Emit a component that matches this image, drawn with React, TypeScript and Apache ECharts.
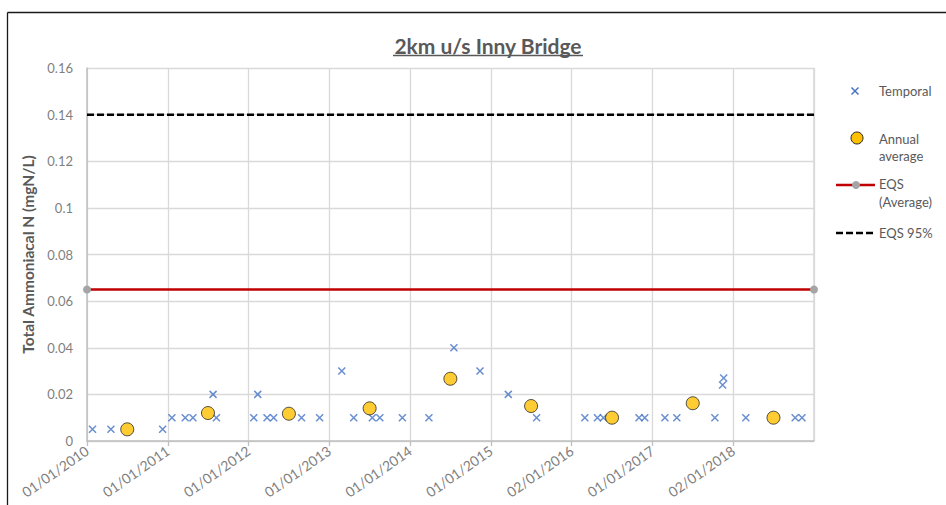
import React, { useEffect, useRef } from "react";
import * as echarts from "echarts";

const tickLabels = [
  "01/01/2010", "01/01/2011", "01/01/2012", "01/01/2013", "01/01/2014",
  "01/01/2015", "02/01/2016", "01/01/2017", "02/01/2018",
];

const temporalDates = [
  "2010-01-26", "2010-04-19", "2010-12-09",
  "2011-01-20", "2011-03-21", "2011-04-25", "2011-07-25", "2011-08-09",
  "2012-01-25", "2012-02-12", "2012-03-25", "2012-04-24", "2012-08-28", "2012-11-18",
  "2013-02-26", "2013-04-21", "2013-07-14", "2013-08-17", "2013-11-27",
  "2014-03-27", "2014-07-18", "2014-11-13",
  "2015-03-21", "2015-07-27",
  "2016-03-01", "2016-04-27", "2016-05-24", "2016-11-01", "2016-11-27",
  "2017-02-26", "2017-04-21", "2017-10-10", "2017-11-19", "2017-11-14",
  "2018-02-27", "2018-10-08", "2018-11-08",
];
const temporalValues = [
  0.005, 0.005, 0.005,
  0.01, 0.01, 0.01, 0.02, 0.01,
  0.01, 0.02, 0.01, 0.01, 0.01, 0.01,
  0.03, 0.01, 0.01, 0.01, 0.01,
  0.01, 0.04, 0.03,
  0.02, 0.01,
  0.01, 0.01, 0.01, 0.01, 0.01,
  0.01, 0.01, 0.01, 0.027, 0.024,
  0.01, 0.01, 0.01,
];

const annualDates = [
  "2010-07-02", "2011-07-02", "2012-07-02", "2013-07-02", "2014-07-02",
  "2015-07-02", "2016-07-02", "2017-07-02", "2018-07-02",
];
const annualValues = [0.005, 0.012, 0.0117, 0.014, 0.0267, 0.015, 0.01, 0.0162, 0.01];

const eqsAverage = 0.065;
const eqs95 = 0.14;

const DAY = 86400000;
const ORIGIN = Date.UTC(2010, 0, 1);
const toDay = (s: string) => (Date.parse(s + "T00:00:00Z") - ORIGIN) / DAY;
const YEAR = 365.25;
const X_MIN = 0;
const X_MAX = YEAR * tickLabels.length;

const FONT = "Lato, 'Open Sans', sans-serif";

export default function App() {
  const ref = useRef<HTMLDivElement>(null);
  useEffect(() => {
    if (!ref.current) return;
    const chart = echarts.init(ref.current, null, { renderer: "svg" });
    const textGray = "#595959";
    const labelGray = "#7f7f7f";
    const legendText = (text: string, x: number, y: number) => ({
      type: "text",
      x,
      y,
      style: { text, fill: textGray, font: `13px ${FONT}`, textVerticalAlign: "middle" },
    });
    chart.setOption({
      animation: false,
      textStyle: { fontFamily: FONT },
      grid: { left: 87, top: 68, right: 132, bottom: 64, containLabel: false },
      xAxis: {
        type: "value",
        min: X_MIN,
        max: X_MAX,
        interval: YEAR,
        axisLine: { show: true, lineStyle: { color: "#bfbfbf", width: 1.5 } },
        axisTick: { show: true, length: 5, lineStyle: { color: "#bfbfbf", width: 1.3 } },
        splitLine: { show: true, lineStyle: { color: "#d9d9d9", width: 1.3 } },
        axisLabel: {
          rotate: 35,
          margin: 8,
          color: labelGray,
          fontSize: 14,
          fontFamily: FONT,
          showMaxLabel: false,
          formatter: (v: number) => tickLabels[Math.round(v / YEAR)] ?? "",
        },
      },
      yAxis: {
        type: "value",
        min: 0,
        max: 0.16,
        interval: 0.02,
        name: "Total Ammoniacal N (mgN/L)",
        nameLocation: "middle",
        nameGap: 50,
        nameTextStyle: { color: textGray, fontWeight: "bold", fontSize: 15.5, fontFamily: FONT },
        axisLine: { show: true, lineStyle: { color: "#bfbfbf", width: 1.5 } },
        axisTick: { show: false },
        splitLine: { show: true, lineStyle: { color: "#d9d9d9", width: 1.3 } },
        axisLabel: {
          color: labelGray,
          fontSize: 13,
          margin: 14,
          fontFamily: FONT,
          formatter: (v: number) => (v === 0 ? "0" : String(Math.round(v * 100) / 100)),
        },
      },
      graphic: [
        { type: "line", shape: { x1: 7.5, y1: 12.5, x2: 946, y2: 12.5 }, style: { stroke: "#1a1a1a", lineWidth: 1.3 } },
        { type: "line", shape: { x1: 7.5, y1: 12.5, x2: 7.5, y2: 505 }, style: { stroke: "#1a1a1a", lineWidth: 1.3 } },
        { type: "line", shape: { x1: 814, y1: 68, x2: 814, y2: 441 }, style: { stroke: "#d9d9d9", lineWidth: 1.5 } },
        {
          type: "text",
          x: 488,
          y: 45,
          style: {
            text: "2km u/s Inny Bridge",
            fill: textGray,
            font: `bold 21px ${FONT}`,
            textAlign: "center",
            textVerticalAlign: "middle",
          },
        },
        { type: "line", shape: { x1: 393, y1: 55.5, x2: 583, y2: 55.5 }, style: { stroke: textGray, lineWidth: 1.3 } },
        // legend
        { type: "line", shape: { x1: 851.5, y1: 87.5, x2: 858.5, y2: 94.5 }, style: { stroke: "#4472c4", lineWidth: 1.5 } },
        { type: "line", shape: { x1: 858.5, y1: 87.5, x2: 851.5, y2: 94.5 }, style: { stroke: "#4472c4", lineWidth: 1.5 } },
        legendText("Temporal", 879, 91),
        { type: "circle", shape: { cx: 857, cy: 138, r: 6 }, style: { fill: "#ffc000", stroke: "#262626", lineWidth: 1 } },
        legendText("Annual", 879, 139),
        legendText("average", 879, 156),
        { type: "line", shape: { x1: 836, y1: 185, x2: 875, y2: 185 }, style: { stroke: "#c00000", lineWidth: 2.5 } },
        { type: "circle", shape: { cx: 856, cy: 185, r: 4 }, style: { fill: "#a5a5a5" } },
        legendText("EQS", 879, 184),
        legendText("(Average)", 879, 202),
        { type: "line", shape: { x1: 836, y1: 233, x2: 875, y2: 233 }, style: { stroke: "#000", lineWidth: 2.5, lineDash: [7, 3] } },
        legendText("EQS 95%", 879, 233),
      ],
      series: [
        {
          name: "EQS 95%",
          type: "line",
          data: [[X_MIN, eqs95], [X_MAX, eqs95]],
          symbol: "none",
          lineStyle: { color: "#000", width: 2.5, type: [7, 3] },
          z: 2,
        },
        {
          name: "EQS (Average)",
          type: "line",
          data: [[X_MIN, eqsAverage], [X_MAX, eqsAverage]],
          symbol: "circle",
          symbolSize: 8,
          showSymbol: true,
          itemStyle: { color: "#a5a5a5" },
          lineStyle: { color: "#c00000", width: 2.5 },
          z: 3,
        },
        {
          name: "Temporal",
          type: "scatter",
          data: temporalDates.map((d, i) => [toDay(d), temporalValues[i]]),
          symbol: "path://M0,0L10,10M10,0L0,10",
          symbolSize: 7,
          itemStyle: { color: "#4472c4", borderColor: "#4472c4", borderWidth: 1.5 },
          z: 4,
        },
        {
          name: "Annual average",
          type: "scatter",
          data: annualDates.map((d, i) => [toDay(d), annualValues[i]]),
          symbol: "circle",
          symbolSize: 13,
          itemStyle: { color: "#ffc000", borderColor: "#262626", borderWidth: 1 },
          z: 5,
        },
      ],
    });
    return () => chart.dispose();
  }, []);
  return (
    <div
      ref={ref}
      style={{ position: "absolute", left: 0, top: 0, width: 946, height: 505, background: "#fff" }}
    />
  );
}
